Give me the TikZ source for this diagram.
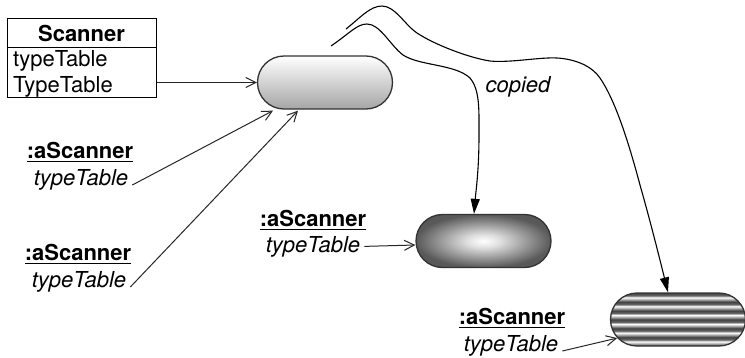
\documentclass[tikz,border=0pt]{standalone}
\usepackage{fontspec}
\setmainfont{TeX Gyre Heros}
\usetikzlibrary{shapes.misc,arrows.meta,calc}
\newcommand\ulbox[1]{\setbox0\hbox{#1}\rlap{\rule[-4pt]{\wd0}{1.1pt}}\box0}
\pgfdeclareverticalshading{stripes}{100bp}{%
color(0bp)=(black!75); color(25bp)=(black!75);
color(28bp)=(black!20); color(29.2bp)=(white); color(31bp)=(black!60); color(33.3bp)=(black!75);
color(36.3bp)=(black!20); color(37.5bp)=(white); color(39.3bp)=(black!60); color(41.7bp)=(black!75);
color(44.6bp)=(black!20); color(45.8bp)=(white); color(47.6bp)=(black!60); color(50bp)=(black!75);
color(53bp)=(black!20); color(54.2bp)=(white); color(56bp)=(black!60); color(58.3bp)=(black!75);
color(61.3bp)=(black!20); color(62.5bp)=(white); color(64.3bp)=(black!60); color(66.7bp)=(black!75);
color(69.6bp)=(black!20); color(70.8bp)=(white); color(72.6bp)=(black!60); color(75bp)=(black!75);
color(100bp)=(black!75)}
\pgfdeclareradialshading{softglow}{\pgfpoint{0bp}{0bp}}{%
color(0bp)=(white); color(6bp)=(black!12); color(16bp)=(black!40); color(25bp)=(black!65); color(50bp)=(black!70)}
\begin{document}
\begin{tikzpicture}[x=1pt,y=-1pt,
  every node/.style={font=\fontsize{22}{26}\selectfont, inner sep=0pt},
  pill/.style={rounded rectangle, draw=black!80, line width=1.3pt, minimum width=135pt, minimum height=53pt},
  conn/.style={draw=black!85, line width=1pt},
  openarr/.style={conn, -{Straight Barb[length=10pt,width=10pt]}},
  copyarr/.style={draw=black, line width=1.1pt, -{Triangle[length=15pt,width=9pt]}},
  lname/.style={anchor=base, font=\fontsize{22}{26}\selectfont\bfseries},
  lattr/.style={anchor=base, font=\fontsize{22}{26}\selectfont\itshape, inner xsep=4pt},
  clsbox/.style={draw=black, line width=1pt, minimum width=149pt, minimum height=79pt}
]
\useasboundingbox (0,0) rectangle (745,357);

% class box
\node[clsbox] (cls) at (81.5,57.5) {};
\draw[line width=1pt] (cls.west |- 0,47) -- (cls.east |- 0,47);
\node[anchor=base, font=\fontsize{22}{26}\selectfont\bfseries] (ctitle) at (81.5,41) {Scanner};
\node[anchor=base west] (cat1) at (13,66) {typeTable};
\node[anchor=base west] (cat2) at (13,92) {TypeTable};

% objects
\node[pill, shading=axis, top color=white, bottom color=black!35] (r1) at (325,82.5) {};
\node[pill, shading=softglow] (r2) at (483.5,241) {};
\node[pill, shading=stripes] (r3) at (678,319.5) {};

% labels
\node[lname] (ln1) at (80,158) {\ulbox{:aScanner}};
\node[lattr] (lt1) at (81,185) {typeTable};
\node[lname] (ln2) at (78,260) {\ulbox{:aScanner}};
\node[lattr] (lt2) at (79,287) {typeTable};
\node[lname] (ln3) at (313,226) {\ulbox{:aScanner}};
\node[lattr] (lt3) at (313,252) {typeTable};
\node[lname] (ln4) at (512,324) {\ulbox{:aScanner}};
\node[lattr] (lt4) at (511,351) {typeTable};

\node[anchor=base, font=\fontsize{22}{26}\selectfont\itshape] (cp) at (518,92) {copied};

% connectors
\draw[openarr] (cls.east |- r1.west) -- (r1.west);
\draw[openarr] (lt1.base east) -- ($(r1.south)+(-52,1)$);
\draw[openarr] (lt2.base east) -- ($(r1.south)+(-27,1)$);
\draw[openarr] (lt3.east) -- ($(r2.west)+(0,4)$);
\draw[openarr] (lt4.base east) -- (r3.197);

% copied curves
\coordinate (ca) at (331,46);
\coordinate (cb) at (346,29);
\draw[copyarr] (ca) .. controls (350,33) and (357,24) .. (367,24)
  .. controls (380,24) and (390,45) .. (403,55)
  .. controls (420,66) and (455,64) .. (470,78)
  .. controls (480,90) and (479,110) .. (479,135)
  .. controls (479,170) and (476,190) .. ($(r2.north)+(-9.5,0)$);
\draw[copyarr] (cb) .. controls (360,18) and (370,6) .. (382,6)
  .. controls (395,6) and (405,25) .. (417,33)
  .. controls (435,45) and (470,58) .. (490,61)
  .. controls (510,63) and (540,57) .. (557,58)
  .. controls (575,59) and (592,66) .. (600,78)
  .. controls (615,100) and (628,140) .. (640,185)
  .. controls (650,220) and (660,260) .. ($(r3.north)+(-10,0)$);
\end{tikzpicture}
\end{document}
